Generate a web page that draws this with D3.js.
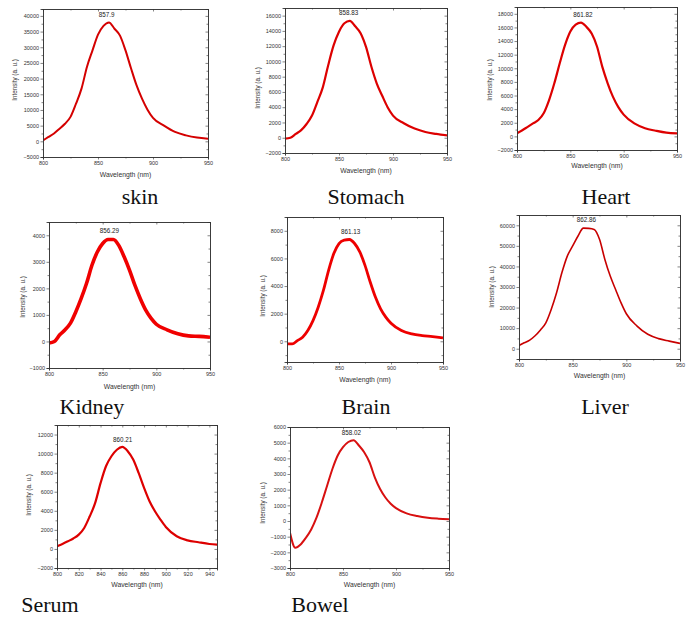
<!DOCTYPE html>
<html><head><meta charset="utf-8">
<script src="https://cdn.jsdelivr.net/npm/d3@7"></script>
<style>body{margin:0;background:#fff}svg{display:block}</style>
</head><body><svg id="c" width="686" height="629"></svg>
<script>
// Shared wavelength grid (nm)
const wavelengths = [800,805,810,815,820,825,830,835,840,845,850,855,860,865,870,875,880,885,890,895,900,910,920,930,940,950];
// Intensity (a. u.) per organ at the grid above
const skinI    = [300,1400,2500,4000,5600,7800,12000,16800,23800,29000,34000,36800,37900,35900,33700,29000,23300,17900,13600,10100,7500,5000,3000,1900,1200,850];
const stomachI = [-130,0,500,1000,1800,2900,4700,6600,9500,12100,13900,15000,15300,14600,13700,11900,9300,7100,5500,4000,2900,1900,1200,750,500,300];
const heartI   = [450,900,1400,1900,2400,3400,5300,7800,10700,13400,15400,16400,16700,16100,15100,13200,10200,7800,5800,4300,3200,1900,1200,830,540,440];
const kidneyI  = [-60,0,250,440,690,1120,1620,2190,2870,3370,3690,3840,3840,3620,3190,2690,2120,1620,1190,880,650,440,290,210,190,160];
const brainI   = [-190,-190,50,290,780,1500,2470,3680,5140,6350,7080,7320,7370,7080,6470,5500,4290,3200,2350,1750,1300,780,530,410,340,240];
const liverI   = [1600,2900,4200,6300,9100,12600,19100,27200,37000,45000,50000,54800,58600,58500,58000,53200,43400,35300,28800,22400,17000,11000,7000,4900,3700,2600];
const serumI   = [280,520,800,1100,1500,2200,3400,4800,6900,8670,9720,10400,10700,10250,9370,7970,6400,5000,3950,3080,2300,1330,900,700,520,430];
const bowelI   = [-750,-1710,-1500,-1070,-540,210,1180,2250,3320,4180,4710,5040,5160,4820,4390,3750,2790,2040,1500,1100,820,490,320,210,150,110];

const organNames = ["skin","Stomach","Heart","Kidney","Brain","Liver","Serum","Bowel"];
const peakLabels = ["857.9","858.83","861.82","856.29","861.13","862.86","860.21","858.02"];
const peakWl     = [857.9,858.83,861.82,856.29,861.13,862.86,860.21,858.02];
const peakVal    = [38200,15400,16800,3900,7400,59200,10700,5200];
const series     = [skinI,stomachI,heartI,kidneyI,brainI,liverI,serumI,bowelI];
const yDomains   = [[-5000,42200],[-2000,17000],[-2000,19000],[-1000,4500],[-1500,9000],[-5000,65000],[-2000,13000],[-3000,6000]];
const yTickVals  = [d3.range(-5000,40001,5000),d3.range(-2000,16001,2000),d3.range(-2000,18001,2000),d3.range(-1000,4001,1000),d3.range(0,8001,2000),d3.range(0,60001,10000),d3.range(-2000,12001,2000),d3.range(-3000,6001,1000)];
const xDomains   = [[800,950],[800,950],[800,950],[800,950],[800,950],[800,950],[800,947],[800,950]];
const xTickVals  = [[800,850,900,950],[800,850,900,950],[800,850,900,950],[800,850,900,950],[800,850,900,950],[800,850,900,950],d3.range(800,941,20),[800,850,900,950]];

// layout (pixel boxes) – styling, not data
const boxes = [
  {L:43,R:208,T:9,B:157, ylx:15, yly:80, xly:177, tx:140, ty:204, sw:2.0, col:"#d40000"},
  {L:285,R:447,T:8,B:153, ylx:258, yly:88, xly:173, tx:366, ty:204, sw:2.2, col:"#dd0000"},
  {L:517,R:677,T:7,B:150, ylx:490, yly:80, xly:168, tx:606, ty:204, sw:2.2, col:"#dd0000"},
  {L:49,R:210,T:222,B:368, ylx:23, yly:297, xly:389, tx:92, ty:414, sw:3.6, col:"#f00000"},
  {L:287,R:443,T:217,B:362, ylx:263, yly:296, xly:382, tx:366, ty:414, sw:2.8, col:"#ee0000"},
  {L:519,R:680,T:215,B:359, ylx:492, yly:287, xly:378, tx:605, ty:414, sw:1.6, col:"#c80000"},
  {L:57,R:217,T:425,B:568, ylx:29, yly:495, xly:587, tx:50, ty:612, sw:2.2, col:"#dd0000"},
  {L:290,R:449,T:427,B:568, ylx:263, yly:503, xly:587, tx:320, ty:612, sw:2.0, col:"#d81010"}
];

const svg = d3.select("#c");
const defs = svg.append("defs");

boxes.forEach((b,i)=>{
  const x = d3.scaleLinear().domain(xDomains[i]).range([b.L,b.R]);
  const y = d3.scaleLinear().domain(yDomains[i]).range([b.B,b.T]);
  const g = svg.append("g");
  const cid = "clip"+i;
  defs.append("clipPath").attr("id",cid).append("rect")
    .attr("x",b.L).attr("y",b.T).attr("width",b.R-b.L).attr("height",b.B-b.T);

  // curve
  const line = d3.line().x((d,k)=>x(wavelengths[k])).y(d=>y(d)).curve(d3.curveMonotoneX);
  g.append("path").datum(series[i]).attr("clip-path",`url(#${cid})`)
    .attr("d",line).attr("fill","none").attr("stroke",b.col)
    .attr("stroke-width",b.sw).attr("stroke-linejoin","round");

  // axes
  const fs = "5.5px";
  const bottom = d3.axisBottom(x).tickValues(xTickVals[i]).tickSize(2.5).tickPadding(2).tickFormat(d3.format("d"));
  const left = d3.axisLeft(y).tickValues(yTickVals[i]).tickSize(2.5).tickPadding(1.5).tickFormat(d3.format("d"));
  const xMinor = (i===6) ? d3.range(810,947,20) : [825,875,925];
  const yStep = yTickVals[i][1]-yTickVals[i][0];
  const yMinor = d3.range(yTickVals[i][0]-yStep/2, yDomains[i][1], yStep).filter(v=>v>yDomains[i][0]&&v<yDomains[i][1]);

  g.append("g").attr("transform",`translate(0,${b.B})`).call(bottom);
  g.append("g").attr("transform",`translate(${b.L},0)`).call(left);
  g.append("g").attr("transform",`translate(0,${b.T})`).call(d3.axisTop(x).tickValues(xTickVals[i]).tickSize(-2.5).tickFormat(""));
  g.append("g").attr("transform",`translate(${b.R},0)`).call(d3.axisRight(y).tickValues(yTickVals[i]).tickSize(-2.5).tickFormat(""));
  // minor ticks
  g.append("g").attr("transform",`translate(0,${b.B})`).call(d3.axisBottom(x).tickValues(xMinor).tickSize(1.5).tickFormat(""));
  g.append("g").attr("transform",`translate(0,${b.T})`).call(d3.axisTop(x).tickValues(xMinor).tickSize(-1.5).tickFormat(""));
  g.append("g").attr("transform",`translate(${b.L},0)`).call(d3.axisLeft(y).tickValues(yMinor).tickSize(1.5).tickFormat(""));
  g.append("g").attr("transform",`translate(${b.R},0)`).call(d3.axisRight(y).tickValues(yMinor).tickSize(-1.5).tickFormat(""));

  g.selectAll(".domain").attr("stroke","#333").attr("stroke-width",0.8);
  g.selectAll(".tick line").attr("stroke","#333").attr("stroke-width",0.6);
  g.selectAll(".tick text").attr("font-family","Liberation Sans, Arial, sans-serif").attr("font-size",fs).attr("fill","#333");

  // axis titles
  g.append("text").attr("x",(b.L+b.R)/2).attr("y",b.xly).attr("text-anchor","middle")
    .attr("font-family","Liberation Sans, Arial, sans-serif").attr("font-size","6.8px").attr("fill","#333")
    .text("Wavelength (nm)");
  g.append("text").attr("transform",`translate(${b.ylx},${b.yly}) rotate(-90)`).attr("text-anchor","middle")
    .attr("dy","0.35em")
    .attr("font-family","Liberation Sans, Arial, sans-serif").attr("font-size","6.3px").attr("fill","#333")
    .text("Intensity (a. u.)");

  // peak label
  g.append("text").attr("x",x(peakWl[i])).attr("y",y(peakVal[i])-5).attr("text-anchor","middle")
    .attr("font-family","Liberation Sans, Arial, sans-serif").attr("font-size","6.3px").attr("fill","#222")
    .text(peakLabels[i]);

  // organ title
  svg.append("text").attr("x",b.tx).attr("y",b.ty).attr("text-anchor","middle")
    .attr("font-family","Liberation Serif, Times New Roman, serif").attr("font-size","22px").attr("fill","#111")
    .text(organNames[i]);
});
</script></body></html>
